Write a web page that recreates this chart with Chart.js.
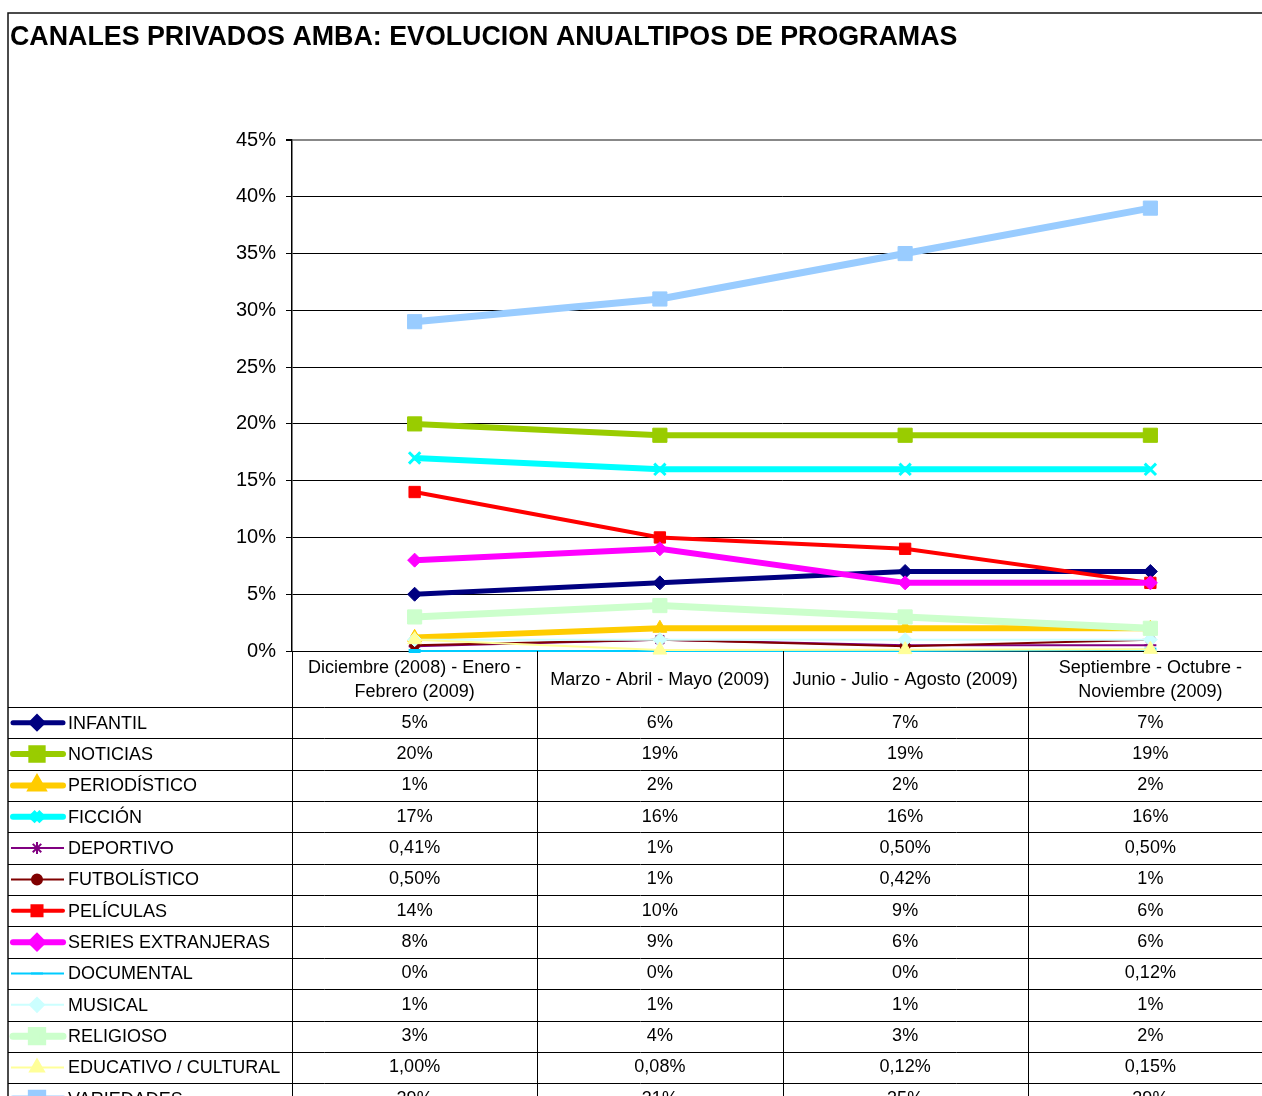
<!DOCTYPE html>
<html>
<head>
<meta charset="utf-8">
<script src="https://cdn.jsdelivr.net/npm/chart.js@4.4.1/dist/chart.umd.min.js"></script>
<style>
  html, body { margin: 0; padding: 0; background: #fff; overflow: hidden; }
  canvas { display: block; }
</style>
</head>
<body>
<canvas id="grafico" width="1290" height="1140"></canvas>
<script>
const titulo = "CANALES PRIVADOS AMBA: EVOLUCION ANUALTIPOS DE PROGRAMAS";

const periodos = [
  ["Diciembre (2008) - Enero -", "Febrero (2009)"],
  ["Marzo - Abril - Mayo (2009)"],
  ["Junio - Julio - Agosto (2009)"],
  ["Septiembre - Octubre -", "Noviembre (2009)"]
];

const yTicks = [0, 5, 10, 15, 20, 25, 30, 35, 40, 45];

// valores por tipo de programa (%)
const infantil = [5, 6, 7, 7];
const noticias = [20, 19, 19, 19];
const periodistico = [1.2, 2, 2, 2];
const ficcion = [17, 16, 16, 16];
const deportivo = [0.41, 1, 0.5, 0.5];
const futbolistico = [0.5, 1, 0.42, 1];
const peliculas = [14, 10, 9, 6];
const series = [8, 9, 6, 6];
const documental = [0, 0, 0, 0.12];
const musical = [1, 1, 1, 1];
const religioso = [3, 4, 3, 2];
const educativo = [1, 0.08, 0.12, 0.15];
const variedades = [29, 31, 35, 39];

// textos de la tabla de datos
const txtInfantil = ["5%", "6%", "7%", "7%"];
const txtNoticias = ["20%", "19%", "19%", "19%"];
const txtPeriodistico = ["1%", "2%", "2%", "2%"];
const txtFiccion = ["17%", "16%", "16%", "16%"];
const txtDeportivo = ["0,41%", "1%", "0,50%", "0,50%"];
const txtFutbolistico = ["0,50%", "1%", "0,42%", "1%"];
const txtPeliculas = ["14%", "10%", "9%", "6%"];
const txtSeries = ["8%", "9%", "6%", "6%"];
const txtDocumental = ["0%", "0%", "0%", "0,12%"];
const txtMusical = ["1%", "1%", "1%", "1%"];
const txtReligioso = ["3%", "4%", "3%", "2%"];
const txtEducativo = ["1,00%", "0,08%", "0,12%", "0,15%"];
const txtVariedades = ["29%", "31%", "35%", "39%"];

const FONT = "'Liberation Sans', Arial, sans-serif";

function serie(label, data, textos, color, ancho, estilo, radio, bw) {
  return {
    label, data, textos,
    borderColor: color,
    backgroundColor: color,
    borderWidth: ancho,
    pointStyle: estilo,
    pointRadius: radio,
    pointBorderWidth: bw || 1,
    pointBackgroundColor: color,
    pointBorderColor: color,
    tension: 0,
    clip: false
  };
}

const datasets = [
  serie("INFANTIL", infantil, txtInfantil, "#000080", 5, "rectRot", 7),
  serie("NOTICIAS", noticias, txtNoticias, "#99CC00", 6, "rect", 10),
  serie("PERIODÍSTICO", periodistico, txtPeriodistico, "#FFCC00", 6, "triangle", 8),
  serie("FICCIÓN", ficcion, txtFiccion, "#00FFFF", 6, "crossRot", 8, 3),
  serie("DEPORTIVO", deportivo, txtDeportivo, "#800080", 2, "star", 6, 2),
  serie("FUTBOLÍSTICO", futbolistico, txtFutbolistico, "#800000", 2, "circle", 5),
  serie("PELÍCULAS", peliculas, txtPeliculas, "#FF0000", 4, "rect", 8),
  serie("SERIES EXTRANJERAS", series, txtSeries, "#FF00FF", 6, "rectRot", 7),
  serie("DOCUMENTAL", documental, txtDocumental, "#00CCFF", 2, "line", 6, 4),
  serie("MUSICAL", musical, txtMusical, "#CCFFFF", 2, "rectRot", 7),
  serie("RELIGIOSO", religioso, txtReligioso, "#CCFFCC", 7, "rect", 10),
  serie("EDUCATIVO / CULTURAL", educativo, txtEducativo, "#FFFF99", 2, "triangle", 8),
  serie("VARIEDADES", variedades, txtVariedades, "#99CCFF", 7, "rect", 10)
];
// en Excel la última serie queda encima
datasets.forEach((d, i) => { d.order = datasets.length - i; });

const filaY0 = 707;
const filaH = 31.35;

const tablaPlugin = {
  id: "tabla",
  afterDraw(chart) {
    const ctx = chart.ctx;
    const area = chart.chartArea;
    const x = chart.scales.x;
    const W = chart.width, H = chart.height;
    const bandas = periodos.map((p, i) => x.getPixelForValue(i));
    const bw = (area.right - area.left) / periodos.length;

    ctx.save();
    // título
    ctx.fillStyle = "#000";
    ctx.font = "bold 26.8px " + FONT;
    ctx.textAlign = "left";
    ctx.textBaseline = "middle";
    ctx.fillText(titulo, 10, 38);

    // borde exterior
    ctx.strokeStyle = "#111";
    ctx.lineWidth = 1.5;
    ctx.beginPath();
    ctx.moveTo(8, H);
    ctx.lineTo(8, 13);
    ctx.lineTo(W, 13);
    ctx.stroke();

    // encabezado de categorías
    ctx.font = "18px " + FONT;
    ctx.textAlign = "center";
    periodos.forEach((p, i) => {
      const cy = (area.bottom + filaY0) / 2 + 1;
      const y0 = cy - (p.length - 1) * 12;
      p.forEach((l, k) => ctx.fillText(l, bandas[i], y0 + k * 24));
    });

    // líneas de la tabla
    ctx.strokeStyle = "#000";
    ctx.lineWidth = 1;
    ctx.beginPath();
    for (let k = 0; k <= datasets.length; k++) {
      const y = Math.round(filaY0 + k * filaH) + 0.5;
      ctx.moveTo(8, y);
      ctx.lineTo(area.right, y);
    }
    for (let k = 0; k <= periodos.length; k++) {
      const xx = Math.round(area.left + k * bw) + 0.5;
      ctx.moveTo(xx, area.bottom);
      ctx.lineTo(xx, H);
    }
    ctx.stroke();

    // filas: clave de leyenda + valores
    datasets.forEach((d, r) => {
      const cy = filaY0 + r * filaH + filaH / 2;
      const grueso = d.borderWidth > 3;
      ctx.strokeStyle = d.borderColor;
      ctx.fillStyle = d.borderColor;
      ctx.lineWidth = d.borderWidth;
      ctx.lineCap = grueso ? "round" : "butt";
      ctx.beginPath();
      ctx.moveTo(grueso ? 13 : 11, cy);
      ctx.lineTo(grueso ? 63 : 64, cy);
      ctx.stroke();
      ctx.lineCap = "butt";
      Chart.helpers.drawPoint(ctx, {
        pointStyle: d.pointStyle,
        radius: d.pointRadius * (grueso ? 0.8 : 1),
        rotation: 0,
        borderWidth: d.pointBorderWidth
      }, 37, cy);

      ctx.fillStyle = "#000";
      ctx.font = "18px " + FONT;
      ctx.textAlign = "left";
      ctx.fillText(d.label, 68, cy + 1);
      ctx.textAlign = "center";
      d.textos.forEach((t, i) => ctx.fillText(t, bandas[i], cy));
    });
    ctx.restore();
  }
};

new Chart(document.getElementById("grafico"), {
  type: "line",
  data: { labels: periodos.map(p => p.join(" ")), datasets },
  options: {
    responsive: false,
    animation: false,
    layout: { padding: { left: 0, top: 140, right: 17, bottom: 1140 - 651 } },
    plugins: { legend: { display: false }, tooltip: { enabled: false } },
    scales: {
      x: { display: false, offset: true },
      y: {
        min: 0, max: 45,
        afterFit(s) { s.width = 292; },
        afterBuildTicks(s) { s.ticks = yTicks.map(v => ({ value: v })); },
        border: { color: "#000", width: 1.5 },
        grid: {
          color: c => c.tick && c.tick.value === 45 ? "#888" : "#000",
          lineWidth: c => c.tick && c.tick.value === 45 ? 2 : 1,
          tickLength: 6,
          tickColor: "#000"
        },
        ticks: {
          color: "#000",
          font: { family: FONT, size: 20 },
          padding: 10,
          callback: v => v + "%"
        }
      }
    }
  },
  plugins: [tablaPlugin]
});
</script>
</body>
</html>
